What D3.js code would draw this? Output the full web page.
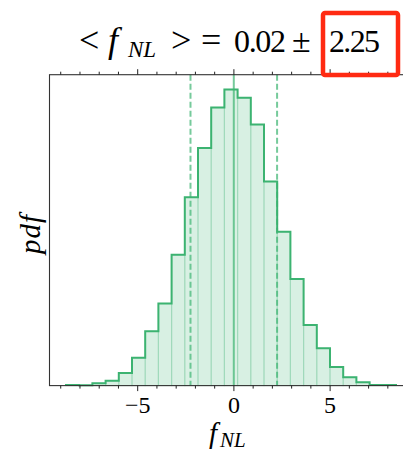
<!DOCTYPE html>
<html>
<head>
<meta charset="utf-8">
<script src="https://cdn.jsdelivr.net/npm/d3@7"></script>
<style>
  html, body { margin: 0; padding: 0; background: #fff; }
  svg { display: block; }
  text { font-family: "Liberation Serif", "DejaVu Serif", serif; fill: #000; }
</style>
</head>
<body>
<div id="chart"></div>
<script>
// histogram of f_NL samples (density), 25 equal bins
var binStart = -8.70,
  binWidth = 0.686;
var density = [0.0004, 0.0002, 0.0014, 0.0029, 0.0075, 0.0167, 0.0325, 0.0491, 0.0782,
  0.1126, 0.1421, 0.1663, 0.1771, 0.1721, 0.1561, 0.1221, 0.0920, 0.0637, 0.0363,
  0.0223, 0.0111, 0.0050, 0.0020, 0.0004, 0.0004];
var meanVal = 0.02,
  sigmaVal = 2.25;
var majorTicks = [-5, 0, 5];
var minorTicks = [-9, -8, -7, -6, -4, -3, -2, -1, 1, 2, 3, 4, 6, 7, 8, 9];

var W = 403, H = 453;
var margin = {top: 74.7, left: 49.5, right: 412.5, bottom: 385.6};
var green = "#3cb371";

var bins = density.map(function(d, i) {
  return {x0: binStart + i * binWidth, x1: binStart + (i + 1) * binWidth, v: d};
});
var lo = bins[0].x0, hi = bins[bins.length - 1].x1, pad = (hi - lo) * 0.05;

var x = d3.scaleLinear().domain([lo - pad, hi + pad]).range([margin.left, margin.right]);
var y = d3.scaleLinear().domain([0, d3.max(density) * 1.05]).range([margin.bottom, margin.top]);

var svg = d3.select("#chart").append("svg").attr("width", W).attr("height", H);

// filled bars
svg.append("g").selectAll("rect").data(bins).enter().append("rect")
  .attr("x", d => x(d.x0))
  .attr("y", d => y(d.v))
  .attr("width", d => x(d.x1) - x(d.x0))
  .attr("height", d => y(0) - y(d.v))
  .attr("fill", green).attr("fill-opacity", 0.2)
  .attr("stroke", green).attr("stroke-opacity", 0.2).attr("stroke-width", 1.2);

// step outline
var pts = [[x(lo), y(0)]];
bins.forEach(function(b) {
  pts.push([x(b.x0), y(b.v)]);
  pts.push([x(b.x1), y(b.v)]);
});
pts.push([x(hi), y(0)]);
svg.append("path").attr("d", d3.line()(pts))
  .attr("fill", "none").attr("stroke", green).attr("stroke-width", 2);

// mean and +- sigma
svg.append("line")
  .attr("x1", x(meanVal)).attr("x2", x(meanVal))
  .attr("y1", margin.top).attr("y2", margin.bottom)
  .attr("stroke", green).attr("stroke-opacity", 0.7).attr("stroke-width", 2);
[meanVal - sigmaVal, meanVal + sigmaVal].forEach(function(v) {
  svg.append("line")
    .attr("x1", x(v)).attr("x2", x(v))
    .attr("y1", margin.top).attr("y2", margin.bottom)
    .attr("stroke", green).attr("stroke-opacity", 0.7).attr("stroke-width", 2)
    .attr("stroke-dasharray", "6,3");
});

// frame
svg.append("rect")
  .attr("x", margin.left).attr("y", margin.top)
  .attr("width", margin.right - margin.left).attr("height", margin.bottom - margin.top)
  .attr("fill", "none").attr("stroke", "#333").attr("stroke-width", 1.1);

// axes
var fmt = d => d < 0 ? "\u2212" + Math.abs(d) : "" + d;
var xb = d3.axisBottom(x).tickValues(majorTicks).tickSize(5.5).tickPadding(5).tickFormat(fmt);
var gx = svg.append("g").attr("transform", `translate(0,${margin.bottom})`).call(xb);
gx.select(".domain").remove();
gx.selectAll("text").attr("font-size", 24).attr("font-family", "Liberation Serif");
svg.append("g").attr("transform", `translate(0,${margin.bottom})`)
  .call(d3.axisBottom(x).tickValues(minorTicks).tickSize(3).tickFormat(""))
  .select(".domain").remove();
svg.append("g").attr("transform", `translate(0,${margin.top})`)
  .call(d3.axisTop(x).tickValues(majorTicks).tickSize(5.5).tickFormat(""))
  .select(".domain").remove();
svg.append("g").attr("transform", `translate(0,${margin.top})`)
  .call(d3.axisTop(x).tickValues(minorTicks).tickSize(3).tickFormat(""))
  .select(".domain").remove();
svg.selectAll(".tick line").attr("stroke", "#222");

// labels
var xl = svg.append("text").attr("x", 209).attr("y", 443)
  .attr("font-size", 29).attr("font-style", "italic");
xl.append("tspan").text("f");
xl.append("tspan").attr("font-size", 21).attr("dx", 3).attr("dy", 4).text("NL");

svg.append("text")
  .attr("transform", `translate(40,234) rotate(-90)`)
  .attr("text-anchor", "middle").attr("font-size", 29).attr("font-style", "italic")
  .attr("letter-spacing", 1)
  .text("pdf");

// title, laid out piece by piece like the LaTeX spacing
var tt = svg.append("text").attr("y", 52).attr("font-size", 32);
tt.append("tspan").attr("x", 79).attr("font-size", 36).text("<");
tt.append("tspan").attr("x", 108).attr("font-style", "italic").attr("font-size", 36).text("f");
tt.append("tspan").attr("x", 128).attr("font-style", "italic").attr("font-size", 23).attr("dy", 5).text("NL");
tt.append("tspan").attr("x", 171).attr("dy", -5).attr("font-size", 36).text(">");
tt.append("tspan").attr("x", 201).attr("font-size", 36).text("=");
tt.append("tspan").attr("x", 234).attr("textLength", 52).text(meanVal.toFixed(2));
tt.append("tspan").attr("x", 292).attr("font-size", 34).text("\u00b1");
tt.append("tspan").attr("x", 329).attr("textLength", 51).text(sigmaVal.toFixed(2));

// highlight box round the error value
svg.append("rect")
  .attr("x", 323).attr("y", 13).attr("width", 75).attr("height", 62).attr("rx", 2)
  .attr("fill", "none").attr("stroke", "#ff2a12").attr("stroke-width", 4.5);
</script>
</body>
</html>
